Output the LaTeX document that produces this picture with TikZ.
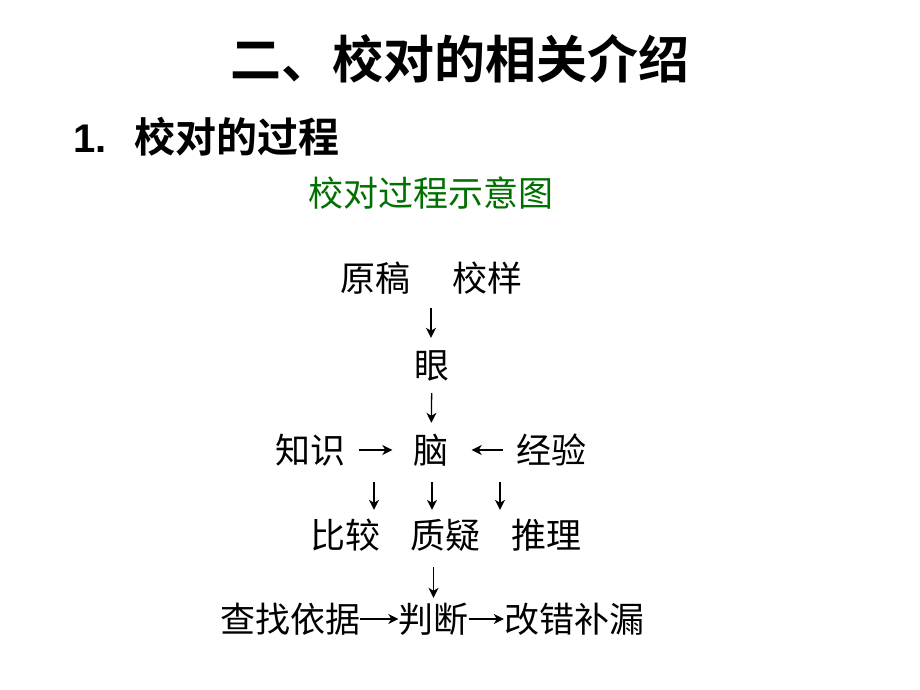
\documentclass[tikz,border=0pt]{standalone}
\usepackage{fontspec}
\newfontfamily\cjk{Noto Sans CJK SC}[BoldFont=* Bold]
\newfontfamily\arialbold{Liberation Sans Bold}
\usetikzlibrary{arrows.meta, positioning, calc}

\begin{document}
\begin{tikzpicture}[x=1pt, y=-1pt,
    word/.style={inner sep=0pt, text height=28pt, text depth=2pt, font=\cjk\fontsize{35}{40}\selectfont},
    arr/.style={line width=1.3pt, -{Stealth[length=10pt,width=10pt,inset=3pt]}}]
                \useasboundingbox[fill=white] (0,0) rectangle (920,690);
                \node (title) at (460,59) {\cjk\bfseries\fontsize{51}{56}\selectfont 二、校对的相关介绍};
                \node[anchor=west, inner sep=0pt] (sub) at (73,137) {{\arialbold\fontsize{40}{44}\selectfont 1.}\hspace{28pt}{\cjk\bfseries\fontsize{41}{46}\selectfont 校对的过程}};
                \node (caption) at (431,193) {\cjk\fontsize{35}{40}\selectfont\color[RGB]{0,112,0} 校对过程示意图};
                \node[word] (orig) at (375,278) {原稿};
                \node[word] (proof) at (487,278) {校样};
                \node[word] (eye) at (432,365) {眼};
                \node[word] (brain) at (431,450) {脑};
                \node[word] (know) at (310.5,450) {知识};
                \node[word] (exp) at (551,450) {经验};
                \node[word] (cmp) at (345,535) {比较};
                \node[word] (doubt) at (445,535) {质疑};
                \node[word] (infer) at (546.5,535) {推理};
                \node[word] (search) at (290,619) {查找依据};
                \node[word] (judge) at (433.5,619) {判断};
                \node[word] (fix) at (574,619) {改错补漏};
                \coordinate (src) at ($(orig.south)!0.5!(proof.south)$);
                \draw[arr, shorten <=15pt, shorten >=12pt] (src) -- (src |- eye.north);
                \draw[arr, shorten <=13pt, shorten >=12pt] (eye) -- (brain);
                \draw[arr, shorten <=13pt, shorten >=21pt] (know.east) -- (brain.west);
                \draw[arr, shorten <=13pt, shorten >=23pt] (exp.west) -- (brain.east);
                \coordinate (b1) at ($(brain.south)+(-57,0)$);
                \coordinate (b2) at ($(brain.south)+(1,0)$);
                \coordinate (b3) at ($(brain.south)+(69,0)$);
                \draw[arr, shorten <=17pt, shorten >=10pt] (b1) -- (b1 |- cmp.north);
                \draw[arr, shorten <=17pt, shorten >=10pt] (b2) -- (b2 |- doubt.north);
                \draw[arr, shorten <=17pt, shorten >=10pt] (b3) -- (b3 |- infer.north);
                \draw[arr, shorten <=17pt, shorten >=6pt] (doubt.south -| judge.north) -- (judge.north);
                \draw[arr] (search.east) -- (judge.west);
                \draw[arr] (judge.east) -- (fix.west);
            \end{tikzpicture}
\end{document}
